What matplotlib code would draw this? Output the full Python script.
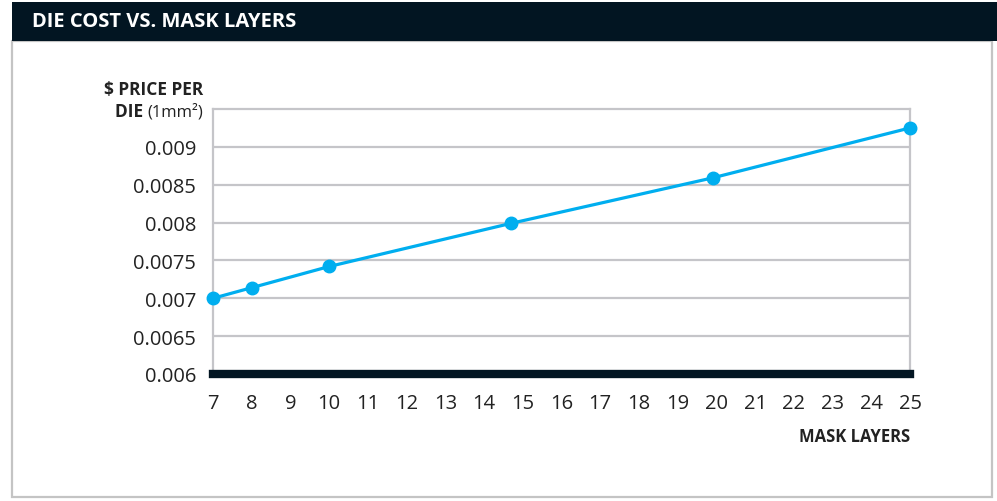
import matplotlib.pyplot as plt
from matplotlib.patches import Rectangle

layers = [7, 8, 10, 14.7, 19.9, 25]
price = [0.00700, 0.00714, 0.00742, 0.00799, 0.00859, 0.00925]
x_ticks = list(range(7, 26))
y_ticks = [0.006, 0.0065, 0.007, 0.0075, 0.008, 0.0085, 0.009]
y_labels = ["0.006", "0.0065", "0.007", "0.0075", "0.008", "0.0085", "0.009"]

navy = "#021522"
grey = "#c5c5c9"
cyan = "#00aeef"

plt.rcParams['font.family'] = ['Open Sans', 'DejaVu Sans']

fig = plt.figure(figsize=(9.97, 5.02), dpi=100)

# header bar and outer frame
fig.patches.append(Rectangle((12 / 997, 1 - 498 / 502), 980 / 997, 456 / 502,
                             transform=fig.transFigure, fill=False,
                             edgecolor="#c4c4c4", lw=1.6))
fig.patches.append(Rectangle((12 / 997, 1 - 42 / 502), 985 / 997, 39 / 502,
                             transform=fig.transFigure, color=navy, lw=0))
fig.text(32 / 997, 1 - 22 / 502, "DIE COST VS. MASK LAYERS", color="white",
         fontsize=14.5, fontweight="bold", va="center", ha="left")

ax = fig.add_axes([213 / 997, 1 - 375 / 502, 697 / 997, 265 / 502])
ax.plot(layers, price, color=cyan, lw=2.3, marker="o", markersize=9,
        clip_on=False, zorder=5)

ax.set_xlim(7, 25)
ax.set_ylim(0.006, 0.0095)
ax.set_xticks(x_ticks)
ax.set_yticks(y_ticks)
ax.set_yticklabels(y_labels)
ax.tick_params(axis="both", length=0, labelsize=14.5, colors="#222222")
ax.tick_params(axis="y", pad=12)
ax.tick_params(axis="x", pad=14)
ax.grid(axis="y", color=grey, lw=1.6)
ax.set_axisbelow(True)

for side in ["left", "right", "top"]:
    ax.spines[side].set_color(grey)
    ax.spines[side].set_linewidth(1.6)
ax.spines["bottom"].set_color(navy)
ax.spines["bottom"].set_linewidth(6)
ax.spines["bottom"].set_zorder(6)

# axis labels
fig.text(203 / 997, 1 - 90 / 502, "$ PRICE PER", fontsize=12.5,
         fontweight="bold", ha="right", va="center", color="#222222")
t2 = fig.text(203 / 997, 1 - 112 / 502, "(1mm²)", fontsize=12,
              ha="right", va="center", color="#222222")
ax.annotate("DIE ", xy=(0, 0.5), xycoords=t2, ha="right", va="center",
            fontsize=12.5, fontweight="bold", color="#222222")
fig.text(910 / 997, 1 - 437 / 502, "MASK LAYERS", fontsize=12,
         fontweight="bold", ha="right", va="center", color="#222222")

fig.savefig("out.png", dpi=100)
